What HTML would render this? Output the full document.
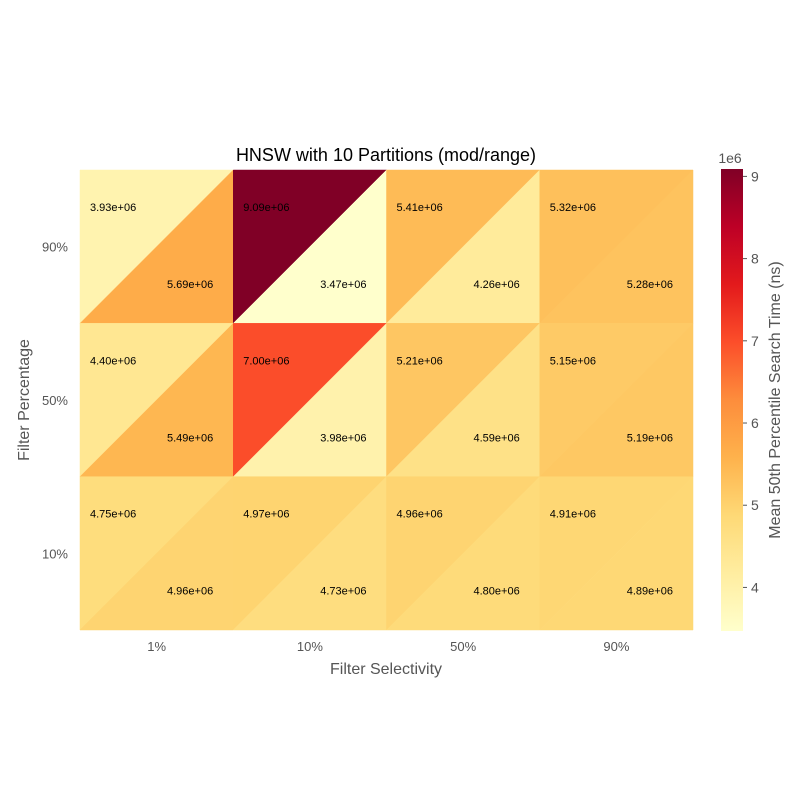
<!DOCTYPE html>
<html><head><meta charset="utf-8"><style>
body{margin:0;background:#fff;}
svg text{font-family:"Liberation Sans","DejaVu Sans",sans-serif;}
</style></head><body>
<svg id="chart" width="800" height="800" viewBox="0 0 800 800" xmlns="http://www.w3.org/2000/svg">
<defs><linearGradient id="cbgrad" x1="0" y1="1" x2="0" y2="0">
<stop offset="0" stop-color="#ffffcc"/><stop offset="0.125" stop-color="#ffeda0"/><stop offset="0.25" stop-color="#fed976"/><stop offset="0.375" stop-color="#feb24c"/><stop offset="0.5" stop-color="#fd8d3c"/><stop offset="0.625" stop-color="#fc4e2a"/><stop offset="0.75" stop-color="#e31a1c"/><stop offset="0.875" stop-color="#bd0026"/><stop offset="1" stop-color="#800026"/>
</linearGradient></defs>
<text x="386" y="161" font-size="18" text-anchor="middle" fill="#000">HNSW with 10 Partitions (mod/range)</text>
<g id="cells"></g>
<g id="xticks"></g><g id="yticks"></g>
<text x="386" y="674" font-size="16" text-anchor="middle" fill="#555">Filter Selectivity</text>
<text transform="translate(29,400) rotate(-90)" font-size="16" text-anchor="middle" fill="#555">Filter Percentage</text>
<rect x="721" y="169" width="22" height="462" fill="url(#cbgrad)"/>
<g id="cbticks"></g>
<text x="730" y="163" font-size="14" text-anchor="middle" fill="#555">1e6</text>
<text transform="translate(780,400) rotate(-90)" font-size="16" text-anchor="middle" fill="#555">Mean 50th Percentile Search Time (ns)</text>
</svg>
<script>
const xCats=["1%","10%","50%","90%"];
const yCats=["90%","50%","10%"];
const upperVals=[[3.93e6,9.09e6,5.41e6,5.32e6],[4.40e6,7.00e6,5.21e6,5.15e6],[4.75e6,4.97e6,4.96e6,4.91e6]];
const lowerVals=[[5.69e6,3.47e6,4.26e6,5.28e6],[5.49e6,3.98e6,4.59e6,5.19e6],[4.96e6,4.73e6,4.80e6,4.89e6]];
const cbTicks=[4,5,6,7,8,9];
const NS="http://www.w3.org/2000/svg";
const X0=80,X1=693,Y0=170,Y1=630;
const cw=(X1-X0)/xCats.length, ch=(Y1-Y0)/yCats.length;
const all=upperVals.flat().concat(lowerVals.flat());
const vmin=Math.min(...all), vmax=Math.max(...all);
const stops=["#ffffcc","#ffeda0","#fed976","#feb24c","#fd8d3c","#fc4e2a","#e31a1c","#bd0026","#800026"].map(h=>[1,3,5].map(i=>parseInt(h.substr(i,2),16)));
function color(v){let t=(v-vmin)/(vmax-vmin);t=Math.max(0,Math.min(1,t))*(stops.length-1);const i=Math.min(Math.floor(t),stops.length-2),f=t-i;const c=stops[i].map((a,k)=>Math.round(a+(stops[i+1][k]-a)*f));return `rgb(${c})`;}
function el(tag,attrs,parent){const e=document.createElementNS(NS,tag);for(const k in attrs)e.setAttribute(k,attrs[k]);parent.appendChild(e);return e;}
const cells=document.getElementById('cells');
function fmt(v){const e=Math.floor(Math.log10(v));return (v/Math.pow(10,e)).toFixed(2)+"e+"+String(e).padStart(2,"0");}
yCats.forEach((yc,r)=>{xCats.forEach((xc,c)=>{
 const x0=X0+c*cw,y0=Y0+r*ch,x1=x0+cw,y1=y0+ch;
 const u=el('polygon',{points:`${x0},${y0} ${x1},${y0} ${x0},${y1}`,fill:color(upperVals[r][c]),stroke:color(upperVals[r][c]),'stroke-width':0.5},cells);
 
 
 const l=el('polygon',{points:`${x1},${y0} ${x1},${y1} ${x0},${y1}`,fill:color(lowerVals[r][c]),stroke:color(lowerVals[r][c]),'stroke-width':0.5},cells);
 
 
 const t1=el('text',{x:x0+10,y:y0+41,'font-size':11,fill:'#000'},cells);t1.textContent=fmt(upperVals[r][c]);
 
 
 const t2=el('text',{x:x0+87,y:y0+118,'font-size':11,fill:'#000'},cells);t2.textContent=fmt(lowerVals[r][c]);
 
 
});});
const xt=document.getElementById('xticks');
xCats.forEach((c,i)=>{const t=el('text',{x:X0+(i+0.5)*cw,y:651,'font-size':13,'text-anchor':'middle',fill:'#555'},xt);t.textContent=c;
 
 });
const yt=document.getElementById('yticks');
yCats.forEach((c,i)=>{const t=el('text',{x:68,y:Y0+(i+0.5)*ch+5,'font-size':13,'text-anchor':'end',fill:'#555'},yt);t.textContent=c;
 
 });
const cb=document.getElementById('cbticks');
cbTicks.forEach(v=>{const y=631-(v*1e6-vmin)/(vmax-vmin)*462;
 const ln=el('line',{x1:743,x2:747,y1:y,y2:y,stroke:'#555'},cb);
 
 
 const t=el('text',{x:751,y:y+5,'font-size':14,fill:'#555'},cb);t.textContent=v;
 
 });
</script>
</body></html>
